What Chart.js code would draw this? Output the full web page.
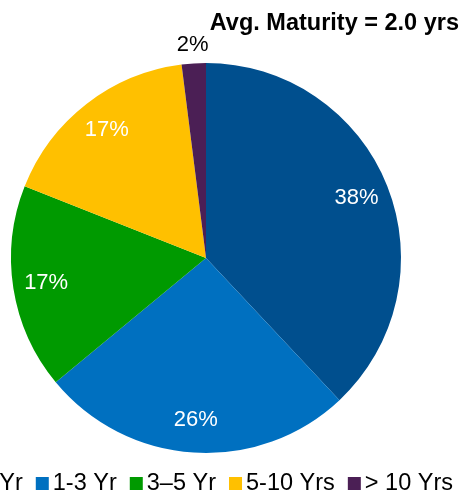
<!DOCTYPE html>
<html>
<head>
<meta charset="utf-8">
<script src="https://cdn.jsdelivr.net/npm/chart.js@4"></script>
<style>
    body { margin: 0; background: #fff; }
    #wrap { width: 465px; height: 491px; position: relative; }
</style>
</head>
<body>
<div id="wrap"><canvas id="maturity-pie"></canvas></div>
<script>
    // Data
    var categories = ["< 1 Yr", "1-3 Yr", "3–5 Yr", "5-10 Yrs", "> 10 Yrs"];
    var shares = [38, 26, 17, 17, 2];
    var sliceColors = ["#004F8E", "#0070C0", "#009A00", "#FFC000", "#4B1F55"];
    var titleText = "Avg. Maturity = 2.0 yrs";

    var FONT = "'Liberation Sans', Arial, sans-serif";

    // Percent labels inside slices (small slices go outside)
    var sliceLabels = {
        id: "sliceLabels",
        afterDatasetsDraw: function (chart) {
            var ctx = chart.ctx;
            var meta = chart.getDatasetMeta(0);
            var total = shares.reduce(function (a, b) { return a + b; }, 0);
            ctx.save();
            ctx.font = "22px " + FONT;
            ctx.textAlign = "center";
            ctx.textBaseline = "middle";
            meta.data.forEach(function (arc, i) {
                var p = arc.getProps(["x", "y", "startAngle", "endAngle", "outerRadius"], true);
                var mid = (p.startAngle + p.endAngle) / 2;
                var small = shares[i] / total < 0.05;
                var d = small ? p.outerRadius + 18 : p.outerRadius * 0.83;
                ctx.fillStyle = small ? "#000" : "#fff";
                ctx.fillText(shares[i] + "%", p.x + Math.cos(mid) * d, p.y + Math.sin(mid) * d);
            });
            ctx.restore();
        }
    };

    // Title and one-line legend, right aligned (legend runs off the left edge)
    var headerFooter = {
        id: "headerFooter",
        afterDraw: function (chart) {
            var ctx = chart.ctx;
            ctx.save();
            ctx.fillStyle = "#000";
            ctx.font = "bold 23.5px " + FONT;
            ctx.textAlign = "right";
            ctx.textBaseline = "alphabetic";
            ctx.fillText(titleText, 459, 30);

            ctx.font = "23.5px " + FONT;
            ctx.textAlign = "left";
            var box = 13, gap = 4, spacing = 13;
            var total = 0;
            categories.forEach(function (c, i) {
                total += box + gap + ctx.measureText(c).width + (i < categories.length - 1 ? spacing : 0);
            });
            var x = 453 - total;
            categories.forEach(function (c, i) {
                ctx.fillStyle = sliceColors[i];
                ctx.fillRect(x, 477, box, box);
                x += box + gap;
                ctx.fillStyle = "#000";
                ctx.fillText(c, x, 490);
                x += ctx.measureText(c).width + spacing;
            });
            ctx.restore();
        }
    };

    var ctx1 = document.getElementById("maturity-pie").getContext("2d");
    var myChart1 = new Chart(ctx1, {
        type: "pie",
        data: {
            labels: categories,
            datasets: [{
                data: shares,
                backgroundColor: sliceColors,
                borderWidth: 0
            }]
        },
        options: {
            responsive: true,
            maintainAspectRatio: false,
            animation: false,
            layout: { padding: { left: 11, right: 64, top: 63, bottom: 38 } },
            plugins: {
                legend: { display: false },
                title: { display: false },
                tooltip: { enabled: false }
            }
        },
        plugins: [sliceLabels, headerFooter]
    });
</script>
</body>
</html>
